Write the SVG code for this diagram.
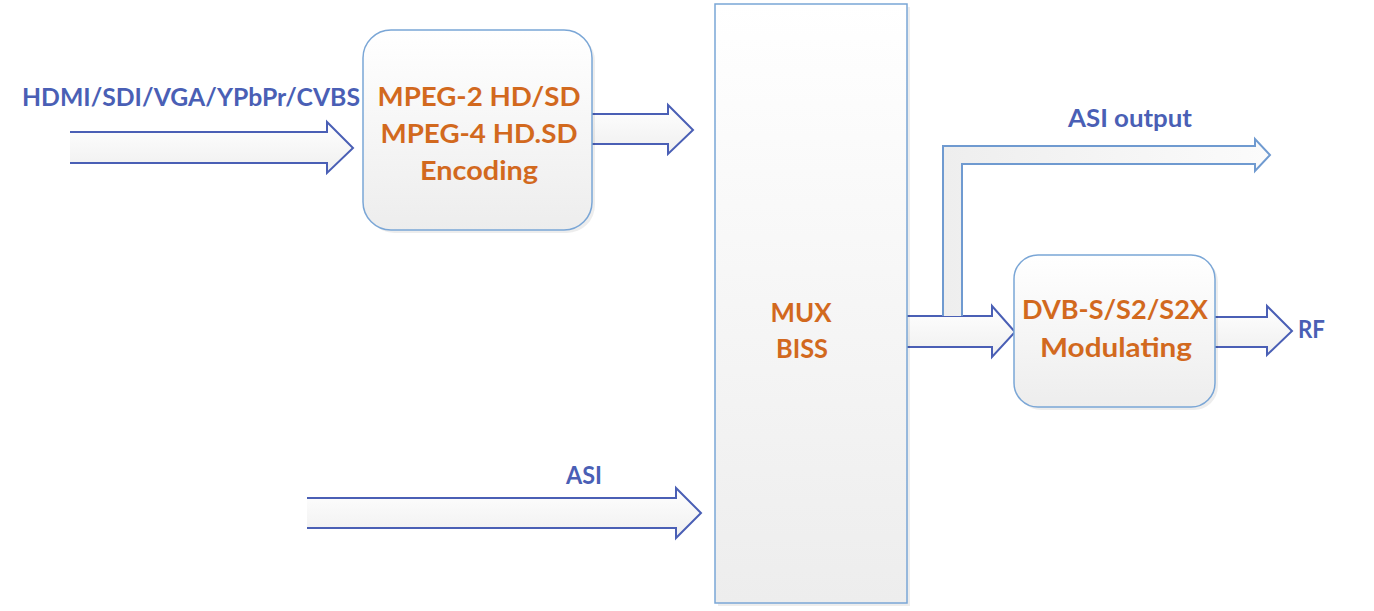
<svg xmlns="http://www.w3.org/2000/svg" width="1374" height="611" viewBox="0 0 1374 611">
<defs>
<linearGradient id="boxg" x1="0" y1="0" x2="0" y2="1">
<stop offset="0" stop-color="#ffffff"/>
<stop offset="1" stop-color="#ededed"/>
</linearGradient>
<linearGradient id="arrg" x1="0" y1="0" x2="0" y2="1">
<stop offset="0" stop-color="#ffffff"/>
<stop offset="1" stop-color="#efefef"/>
</linearGradient>
<linearGradient id="brg" x1="0" y1="0" x2="1" y2="0">
<stop offset="0" stop-color="#eeeeee"/>
<stop offset="1" stop-color="#fbfbfb"/>
</linearGradient>
</defs>
<style>
.box{fill:url(#boxg);stroke:#7aa6d6;stroke-width:1.5}
.shadow{fill:#000;opacity:0.07}
.arr{fill:url(#arrg);stroke:#4a5fb5;stroke-width:2;stroke-linejoin:miter}
.arr2{fill:url(#brg);stroke:#6f9ad0;stroke-width:2;stroke-linejoin:miter}
.lbl{font-family:Lato,"Liberation Sans",sans-serif;font-weight:bold;fill:#4a5fb5;font-size:25px}
.ttl{font-family:Lato,"Liberation Sans",sans-serif;font-weight:bold;fill:#d2691e;font-size:27px;text-anchor:middle}
</style>
<rect width="1374" height="611" fill="#ffffff"/>
<g id="connectors">
<path class="arr" d="M70 132 H327 V122 L353 148 L327 173 V163 H70"/>
<path class="arr" d="M592 114 H668 V105 L693 130 L668 154 V144 H592"/>
<path class="arr" d="M307 498 H676 V488 L701 513 L676 538 V528 H307"/>
<path class="arr" d="M907 316 H992 V306 L1015 332 L992 357 V347 H907"/>
<path class="arr2" d="M943 316 V146 H1255 V139 L1270 155 L1255 171 V164 H962 V316"/>
<path class="arr" d="M1215 317 H1267 V306 L1292 331 L1267 355 V347 H1215"/>
</g>
<g id="encoder">
<rect class="shadow" x="366" y="33" width="229" height="200" rx="28"/>
<rect class="box" x="363" y="30" width="229" height="200" rx="28"/>
<text class="ttl" x="479" y="106" textLength="203" lengthAdjust="spacingAndGlyphs">MPEG-2 HD/SD</text>
<text class="ttl" x="479" y="143" textLength="197" lengthAdjust="spacingAndGlyphs">MPEG-4 HD.SD</text>
<text class="ttl" x="479" y="180" textLength="118" lengthAdjust="spacingAndGlyphs">Encoding</text>
</g>
<g id="mux">
<rect class="shadow" x="718" y="7" width="192" height="599"/>
<rect class="box" x="715" y="4" width="192" height="599"/>
<text class="ttl" x="801" y="322" textLength="61" lengthAdjust="spacingAndGlyphs">MUX</text>
<text class="ttl" x="802" y="358" textLength="52" lengthAdjust="spacingAndGlyphs">BISS</text>
</g>
<g id="modulator">
<rect class="shadow" x="1017" y="258" width="201" height="152" rx="24"/>
<rect class="box" x="1014" y="255" width="201" height="152" rx="24"/>
<text class="ttl" x="1115" y="319" textLength="186" lengthAdjust="spacingAndGlyphs">DVB-S/S2/S2X</text>
<text class="ttl" x="1116" y="357" textLength="152" lengthAdjust="spacingAndGlyphs">Modulating</text>
</g>
<g id="labels">
<text class="lbl" x="22" y="106" textLength="338" lengthAdjust="spacingAndGlyphs">HDMI/SDI/VGA/YPbPr/CVBS</text>
<text class="lbl" x="566" y="484" textLength="36" lengthAdjust="spacingAndGlyphs">ASI</text>
<text class="lbl" x="1068" y="127" textLength="124" lengthAdjust="spacingAndGlyphs">ASI output</text>
<text class="lbl" x="1298" y="338" textLength="27" lengthAdjust="spacingAndGlyphs">RF</text>
</g>
</svg>
